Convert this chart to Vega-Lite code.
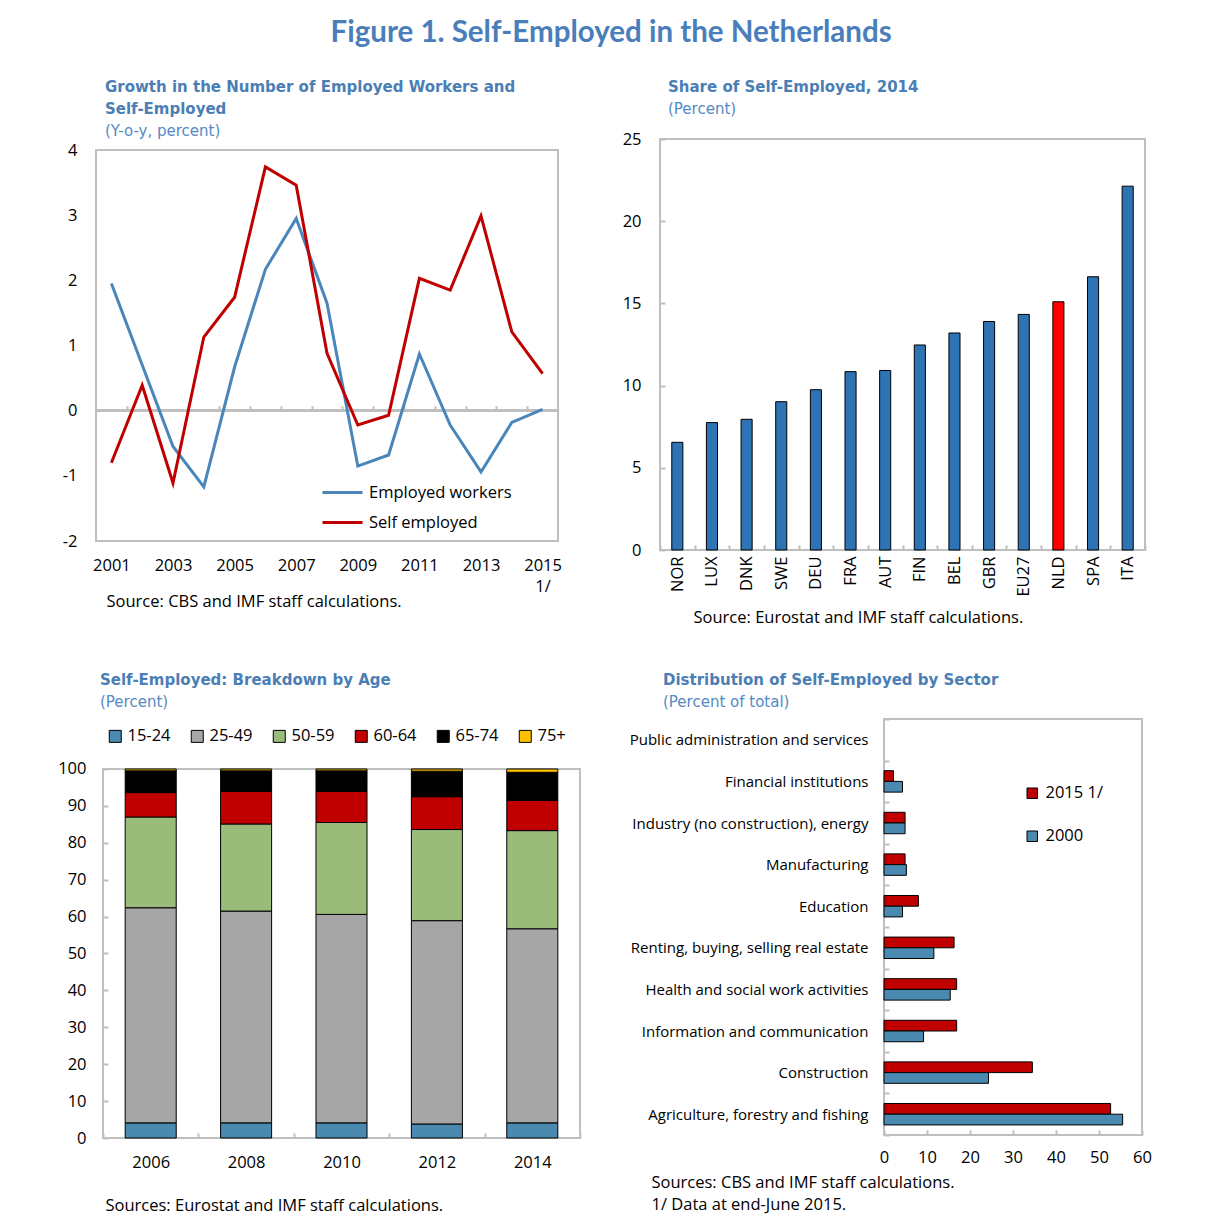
{
  "$schema": "https://vega.github.io/schema/vega-lite/v6.json",
  "background": "white",
  "padding": {"left": 57, "top": 17, "right": 5, "bottom": 5},
  "title": {"text": "Figure 1. Self-Employed in the Netherlands", "font": "Lato", "fontSize": 29.5, "fontWeight": "bold", "color": "#4A7EBB", "anchor": "middle", "offset": 31, "frame": "bounds", "dx": 6},
  "config": {
    "font": "Open Sans",
    "view": {"stroke": "#BFBFBF", "strokeWidth": 2},
    "axis": {"labelFont": "Open Sans", "labelFontSize": 16.5, "labelColor": "#000", "domain": false, "grid": false, "ticks": false, "titleFont": "Open Sans", "titleFontSize": 16.5, "titleFontWeight": "normal", "titleColor": "#000", "tickColor": "#BFBFBF", "tickWidth": 2},
    "title": {"font": "DejaVu Sans", "fontSize": 15, "fontWeight": "bold", "color": "#4A7EB5", "subtitleFont": "DejaVu Sans", "subtitleFontSize": 15, "subtitleColor": "#5589C4", "anchor": "start", "frame": "group", "lineHeight": 22, "subtitleLineHeight": 22, "subtitlePadding": 7},
    "legend": {"labelFont": "Open Sans", "labelFontSize": 16.5, "labelColor": "#000"}
  },
  "spacing": 45,
  "resolve": {"scale": {"color": "independent"}},
  "vconcat": [
    {
      "spacing": 59,
      "resolve": {"scale": {"color": "independent"}},
      "hconcat": [
        {
          "width": 455,
          "height": 411,
          "view": {"stroke": null},
          "title": {"text": ["Growth in the Number of Employed Workers and", "Self-Employed"], "subtitle": "(Y-o-y, percent)", "dx": 2, "offset": 0},
          "data": {"values": [
            {"year": 2001, "series": "Employed workers", "value": 1.95},
            {"year": 2002, "series": "Employed workers", "value": 0.70},
            {"year": 2003, "series": "Employed workers", "value": -0.55},
            {"year": 2004, "series": "Employed workers", "value": -1.17},
            {"year": 2005, "series": "Employed workers", "value": 0.67},
            {"year": 2006, "series": "Employed workers", "value": 2.17},
            {"year": 2007, "series": "Employed workers", "value": 2.95},
            {"year": 2008, "series": "Employed workers", "value": 1.65},
            {"year": 2009, "series": "Employed workers", "value": -0.85},
            {"year": 2010, "series": "Employed workers", "value": -0.68},
            {"year": 2011, "series": "Employed workers", "value": 0.87},
            {"year": 2012, "series": "Employed workers", "value": -0.22},
            {"year": 2013, "series": "Employed workers", "value": -0.94},
            {"year": 2014, "series": "Employed workers", "value": -0.18},
            {"year": 2015, "series": "Employed workers", "value": 0.02},
            {"year": 2001, "series": "Self employed", "value": -0.80},
            {"year": 2002, "series": "Self employed", "value": 0.39},
            {"year": 2003, "series": "Self employed", "value": -1.11},
            {"year": 2004, "series": "Self employed", "value": 1.13},
            {"year": 2005, "series": "Self employed", "value": 1.74},
            {"year": 2006, "series": "Self employed", "value": 3.74},
            {"year": 2007, "series": "Self employed", "value": 3.46},
            {"year": 2008, "series": "Self employed", "value": 0.88},
            {"year": 2009, "series": "Self employed", "value": -0.22},
            {"year": 2010, "series": "Self employed", "value": -0.07},
            {"year": 2011, "series": "Self employed", "value": 2.03},
            {"year": 2012, "series": "Self employed", "value": 1.85},
            {"year": 2013, "series": "Self employed", "value": 2.99},
            {"year": 2014, "series": "Self employed", "value": 1.21},
            {"year": 2015, "series": "Self employed", "value": 0.57}
          ]},
          "resolve": {"axis": {"x": "independent"}},
          "layer": [
            {
              "mark": {"type": "rect", "fillOpacity": 0, "stroke": "#BFBFBF", "strokeWidth": 2},
              "encoding": {
                "x": {"datum": 2000.5, "type": "quantitative", "scale": {"domain": [2000.727, 2015.5], "nice": false, "zero": false}, "axis": null},
                "x2": {"datum": 2015.5},
                "y": {"datum": -2, "type": "quantitative", "scale": {"domain": [-2.1381, 4.1688], "nice": false, "zero": false}},
                "y2": {"datum": 4}
              }
            },
            {
              "mark": {"type": "rule", "color": "#BFBFBF", "strokeWidth": 2},
              "encoding": {
                "x": {"datum": 2000.5, "type": "quantitative", "scale": {"domain": [2000.727, 2015.5], "nice": false, "zero": false}, "axis": null},
                "x2": {"datum": 2015.5},
                "y": {"datum": 0, "type": "quantitative"}
              }
            },
            {
              "mark": {"type": "point", "opacity": 0},
              "encoding": {
                "x": {"field": "year", "type": "quantitative", "scale": {"domain": [2000.727, 2015.5], "nice": false, "zero": false},
                      "axis": {"orient": "top", "offset": -271.7, "labels": false, "ticks": true, "tickSize": 5, "values": [2001.5, 2002.5, 2003.5, 2004.5, 2005.5, 2006.5, 2007.5, 2008.5, 2009.5, 2010.5, 2011.5, 2012.5, 2013.5, 2014.5], "title": null}},
                "y": {"datum": 0, "type": "quantitative"}
              }
            },
            {
              "mark": {"type": "line", "strokeWidth": 3},
              "encoding": {
                "x": {"field": "year", "type": "quantitative", "scale": {"domain": [2000.727, 2015.5], "nice": false, "zero": false},
                      "axis": {"orient": "bottom", "values": [2001, 2003, 2005, 2007, 2009, 2011, 2013, 2015], "format": "d", "labelPadding": 7, "labelLineHeight": 21, "labelExpr": "datum.value == 2015 ? ['2015', '1/'] : datum.label",
                               "title": "Source: CBS and IMF staff calculations.", "titleX": 3, "titleY": 51, "titleAlign": "left", "titleAnchor": null, "titleBaseline": "middle"}},
                "y": {"field": "value", "type": "quantitative", "scale": {"domain": [-2.1381, 4.1688], "nice": false, "zero": false},
                      "axis": {"values": [-2, -1, 0, 1, 2, 3, 4], "labelPadding": 26, "labelExpr": "'' + datum.value", "title": null}},
                "color": {"field": "series", "type": "nominal", "scale": {"domain": ["Employed workers", "Self employed"], "range": ["#4A86BA", "#C00000"]},
                          "legend": {"orient": "none", "direction": "vertical", "legendX": 218, "legendY": 332, "title": null, "symbolType": "stroke", "symbolSize": 1600, "symbolStrokeWidth": 3, "rowPadding": -8, "labelOffset": 5}}
              }
            }
          ]
        },
        {
          "width": 485,
          "height": 411,
          "title": {"text": "Share of Self-Employed, 2014", "subtitle": "(Percent)", "dx": 8, "offset": 14},
          "data": {"values": [
            {"country": "NOR", "value": 6.55},
            {"country": "LUX", "value": 7.75},
            {"country": "DNK", "value": 7.95},
            {"country": "SWE", "value": 9.02},
            {"country": "DEU", "value": 9.75},
            {"country": "FRA", "value": 10.85},
            {"country": "AUT", "value": 10.92},
            {"country": "FIN", "value": 12.47},
            {"country": "BEL", "value": 13.2},
            {"country": "GBR", "value": 13.9},
            {"country": "EU27", "value": 14.33},
            {"country": "NLD", "value": 15.1},
            {"country": "SPA", "value": 16.62},
            {"country": "ITA", "value": 22.13}
          ]},
          "mark": {"type": "bar", "stroke": "#000", "strokeWidth": 1, "width": {"band": 0.32}},
          "encoding": {
            "x": {"field": "country", "type": "nominal", "sort": null, "scale": {"paddingInner": 0, "paddingOuter": 0},
                  "axis": {"labelAngle": 270, "labelPadding": 11, "ticks": true, "tickBand": "extent", "tickSize": -5,
                           "title": "Source: Eurostat and IMF staff calculations.", "titleX": 33, "titleY": 67, "titleAlign": "left", "titleAnchor": null, "titleBaseline": "middle"}},
            "y": {"field": "value", "type": "quantitative", "scale": {"domain": [0, 25], "nice": false},
                  "axis": {"values": [0, 5, 10, 15, 20, 25], "ticks": true, "tickSize": -5, "labelPadding": 24, "title": null}},
            "color": {"condition": {"test": "datum.country == 'NLD'", "value": "#FF0000"}, "value": "#2E73B4"}
          }
        }
      ]
    },
    {
      "spacing": 47,
      "resolve": {"scale": {"color": "independent"}},
      "hconcat": [
        {
          "width": 477,
          "height": 419,
          "view": {"stroke": null},
          "title": {"text": "Self-Employed: Breakdown by Age", "subtitle": "(Percent)", "dx": -3, "offset": 9},
          "data": {"values": [
            {"year": "2006", "age": "15-24", "value": 4.1},
            {"year": "2006", "age": "25-49", "value": 58.3},
            {"year": "2006", "age": "50-59", "value": 24.6},
            {"year": "2006", "age": "60-64", "value": 6.6},
            {"year": "2006", "age": "65-74", "value": 5.9},
            {"year": "2006", "age": "75+", "value": 0.5},
            {"year": "2008", "age": "15-24", "value": 4.1},
            {"year": "2008", "age": "25-49", "value": 57.4},
            {"year": "2008", "age": "50-59", "value": 23.6},
            {"year": "2008", "age": "60-64", "value": 8.8},
            {"year": "2008", "age": "65-74", "value": 5.6},
            {"year": "2008", "age": "75+", "value": 0.5},
            {"year": "2010", "age": "15-24", "value": 4.1},
            {"year": "2010", "age": "25-49", "value": 56.5},
            {"year": "2010", "age": "50-59", "value": 24.9},
            {"year": "2010", "age": "60-64", "value": 8.4},
            {"year": "2010", "age": "65-74", "value": 5.6},
            {"year": "2010", "age": "75+", "value": 0.5},
            {"year": "2012", "age": "15-24", "value": 3.8},
            {"year": "2012", "age": "25-49", "value": 55.1},
            {"year": "2012", "age": "50-59", "value": 24.7},
            {"year": "2012", "age": "60-64", "value": 8.9},
            {"year": "2012", "age": "65-74", "value": 6.9},
            {"year": "2012", "age": "75+", "value": 0.6},
            {"year": "2014", "age": "15-24", "value": 4.1},
            {"year": "2014", "age": "25-49", "value": 52.6},
            {"year": "2014", "age": "50-59", "value": 26.6},
            {"year": "2014", "age": "60-64", "value": 8.2},
            {"year": "2014", "age": "65-74", "value": 7.6},
            {"year": "2014", "age": "75+", "value": 0.9}
          ]},
          "layer": [
            {
              "mark": {"type": "rect", "fillOpacity": 0, "stroke": "#BFBFBF", "strokeWidth": 2},
              "encoding": {
                "y": {"datum": 0, "type": "quantitative", "scale": {"domain": [0, 113.55], "nice": false}},
                "y2": {"datum": 100}
              }
            },
            {
              "mark": {"type": "bar", "stroke": "#000", "strokeWidth": 1, "width": {"band": 0.535}},
              "encoding": {
                "x": {"field": "year", "type": "nominal", "scale": {"paddingInner": 0, "paddingOuter": 0},
                      "axis": {"labelAngle": 0, "labelPadding": 21, "ticks": true, "tickBand": "extent", "tickSize": -5,
                               "title": "Sources: Eurostat and IMF staff calculations.", "titleX": 2, "titleY": 67, "titleAlign": "left", "titleAnchor": null, "titleBaseline": "middle"}},
                "y": {"field": "value", "type": "quantitative", "stack": "zero", "scale": {"domain": [0, 113.55], "nice": false},
                      "axis": {"values": [0, 10, 20, 30, 40, 50, 60, 70, 80, 90, 100], "ticks": true, "tickSize": -5, "labelPadding": 22, "title": null}},
                "order": {"field": "age", "sort": "ascending"},
                "color": {"field": "age", "type": "nominal",
                          "scale": {"domain": ["15-24", "25-49", "50-59", "60-64", "65-74", "75+"], "range": ["#4A89B0", "#A6A6A6", "#9BBB7A", "#C00000", "#000000", "#FFC000"]},
                          "legend": {"orient": "none", "direction": "horizontal", "legendX": 4, "legendY": 9, "title": null, "symbolType": "square", "symbolSize": 144, "symbolStrokeColor": "#000", "symbolStrokeWidth": 1, "columnPadding": 18, "labelOffset": 4}}
              }
            }
          ]
        },
        {
          "width": 258,
          "height": 416,
          "title": {"text": "Distribution of Self-Employed by Sector", "subtitle": "(Percent of total)", "dx": -221, "offset": 2},
          "data": {"values": [
            {"sector": "Financial institutions", "year": "2015 1/", "value": 2.2},
            {"sector": "Financial institutions", "year": "2000", "value": 4.3},
            {"sector": "Industry (no construction), energy", "year": "2015 1/", "value": 4.9},
            {"sector": "Industry (no construction), energy", "year": "2000", "value": 4.9},
            {"sector": "Manufacturing", "year": "2015 1/", "value": 4.9},
            {"sector": "Manufacturing", "year": "2000", "value": 5.2},
            {"sector": "Education", "year": "2015 1/", "value": 8.0},
            {"sector": "Education", "year": "2000", "value": 4.3},
            {"sector": "Renting, buying, selling real estate", "year": "2015 1/", "value": 16.3},
            {"sector": "Renting, buying, selling real estate", "year": "2000", "value": 11.6},
            {"sector": "Health and social work activities", "year": "2015 1/", "value": 16.9},
            {"sector": "Health and social work activities", "year": "2000", "value": 15.4},
            {"sector": "Information and communication", "year": "2015 1/", "value": 16.9},
            {"sector": "Information and communication", "year": "2000", "value": 9.2},
            {"sector": "Construction", "year": "2015 1/", "value": 34.5},
            {"sector": "Construction", "year": "2000", "value": 24.3},
            {"sector": "Agriculture, forestry and fishing", "year": "2015 1/", "value": 52.7},
            {"sector": "Agriculture, forestry and fishing", "year": "2000", "value": 55.5}
          ]},
          "mark": {"type": "bar", "stroke": "#000", "strokeWidth": 1},
          "encoding": {
            "y": {"field": "sector", "type": "nominal",
                  "scale": {"domain": ["Public administration and services", "Financial institutions", "Industry (no construction), energy", "Manufacturing", "Education", "Renting, buying, selling real estate", "Health and social work activities", "Information and communication", "Construction", "Agriculture, forestry and fishing"], "paddingInner": 0, "paddingOuter": 0},
                  "axis": {"labelFontSize": 15, "labelPadding": 21, "labelLimit": 300, "ticks": true, "tickBand": "extent", "tickSize": -5, "title": null}},
            "yOffset": {"field": "year", "type": "nominal", "scale": {"domain": ["2015 1/", "2000"], "paddingInner": 0, "paddingOuter": 0.94}},
            "x": {"field": "value", "type": "quantitative", "scale": {"domain": [0, 60], "nice": false},
                  "axis": {"values": [0, 10, 20, 30, 40, 50, 60], "ticks": true, "tickSize": -5, "labelPadding": 19, "labelFlush": false,
                           "title": ["Sources: CBS and IMF staff calculations.", "1/ Data at end-June 2015."], "titleX": -233, "titleY": 47, "titleAlign": "left", "titleAnchor": null, "titleBaseline": "middle", "titleLineHeight": 22}},
            "color": {"field": "year", "type": "nominal", "scale": {"domain": ["2015 1/", "2000"], "range": ["#C00000", "#4A89B0"]},
                      "legend": {"orient": "none", "direction": "vertical", "legendX": 140, "legendY": 66, "title": null, "symbolType": "square", "symbolSize": 110, "symbolStrokeColor": "#000", "symbolStrokeWidth": 1, "rowPadding": 26, "labelOffset": 5}}
          }
        }
      ]
    }
  ]
}
